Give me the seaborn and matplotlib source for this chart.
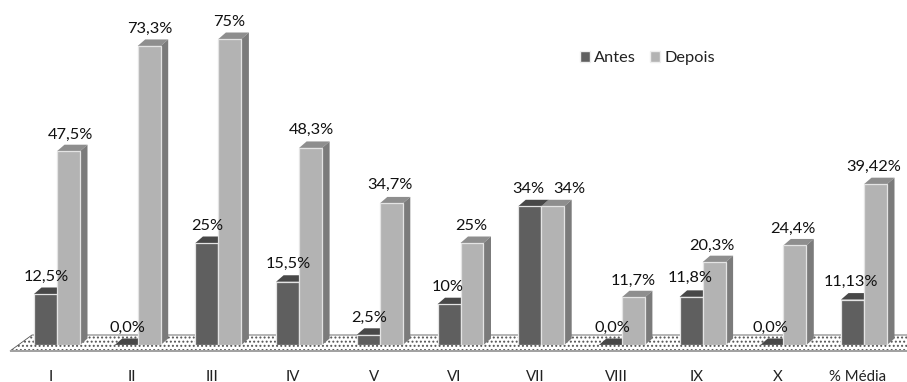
import matplotlib
matplotlib.use("Agg")
import matplotlib.pyplot as plt
from matplotlib.patches import Polygon, Patch
from matplotlib.transforms import ScaledTranslation
import pandas as pd
import seaborn as sns

groups = ["I", "II", "III", "IV", "V", "VI", "VII", "VIII", "IX", "X", "% Média"]
antes = [12.5, 0.0, 25, 15.5, 2.5, 10, 34, 0.0, 11.8, 0.0, 11.13]
depois = [47.5, 73.3, 75, 48.3, 34.7, 25, 34, 11.7, 20.3, 24.4, 39.42]
antes_labels = ["12,5%", "0,0%", "25%", "15,5%", "2,5%", "10%", "34%", "0,0%", "11,8%", "0,0%", "11,13%"]
depois_labels = ["47,5%", "73,3%", "75%", "48,3%", "34,7%", "25%", "34%", "11,7%", "20,3%", "24,4%", "39,42%"]

# horizontal / vertical nudges of the value labels, in pixels
antes_nudge_x = [0.5, 0.8, 0, 0.4, 0.7, -1, -1.7, 1.6, -1.1, -1.8, -1.5]
antes_nudge_y = [17.5, 17.5, 16.5, 17.5, 16.5, 17.5, 17.5, 17.5, 18.5, 17.5, 17.5]
depois_nudge_x = [2.5, 0.8, -0.9, 0.4, -1.3, -1, 16.3, -0.4, -2, -1.8, -1.5]
depois_nudge_y = [16.5, 17.5, 17.5, 18.5, 18.5, 17.5, 17.5, 16.5, 16.5, 16.5, 17.5]

FRONT = {"Antes": "#5f5f5f", "Depois": "#b3b3b3"}
TOP = {"Antes": "#484848", "Depois": "#8e8e8e"}
SIDE = {"Antes": "#4f4f4f", "Depois": "#7b7b7b"}

sns.set_theme(style="white")
plt.rcParams["font.family"] = ["Lato", "DejaVu Sans"]
plt.rcParams["hatch.linewidth"] = 0.9

W, H = 907, 382
BASE_PX = 345
GROUP_PX = 80.7
FIRST_PX = 57
PX_PER_PCT = 4.08

fig = plt.figure(figsize=(W / 100, H / 100), dpi=100)
ax = fig.add_axes([0, (H - BASE_PX) / H, 1, BASE_PX / H])

df = pd.DataFrame({
    "grupo": groups * 2,
    "serie": ["Antes"] * len(groups) + ["Depois"] * len(groups),
    "valor": antes + depois,
})
sns.barplot(data=df, x="grupo", y="valor", hue="serie", palette=FRONT, width=0.57,
            gap=0, saturation=1, legend=False, ax=ax, zorder=3,
            edgecolor="#e4e4e4", linewidth=0.9)

ax.set_xlim(-FIRST_PX / GROUP_PX, (W - FIRST_PX) / GROUP_PX)
ax.set_ylim(0, BASE_PX / PX_PER_PCT)
ax.set_xlabel("")
ax.set_ylabel("")
ax.set_yticks([])
for s in ax.spines.values():
    s.set_visible(False)

# pixel-sized extrusion expressed in data units
dx = 7.5 / GROUP_PX
dy = 6.5 / PX_PER_PCT

# stippled floor under the columns, with a heavier front rim
fx = lambda px: (px - FIRST_PX) / GROUP_PX
fy = lambda px: (BASE_PX - px) / PX_PER_PCT
ax.add_patch(Polygon([(fx(10), fy(351)), (fx(W + 8), fy(351)), (fx(W + 30), fy(335)), (fx(32), fy(335))],
                     closed=True, facecolor="white", edgecolor="#555555", hatch="....",
                     linewidth=0.6, zorder=1, clip_on=False))
ax.add_patch(Polygon([(fx(10), fy(352)), (fx(W), fy(352)), (fx(W), fy(350)), (fx(10), fy(350))],
                     closed=True, facecolor="#a2a2a2", edgecolor="none", zorder=1.5, clip_on=False))

# extrude every column: a roof and a right-hand side
n = len(groups)
series_of = ["Antes"] * n + ["Depois"] * n
for bar, serie in zip(ax.patches[:2 * n], series_of):
    x0, x1 = bar.get_x(), bar.get_x() + bar.get_width()
    h = bar.get_height()
    ax.add_patch(Polygon([(x0, h), (x1, h), (x1 + dx, h + dy), (x0 + dx, h + dy)], closed=True,
                         facecolor=TOP[serie], edgecolor="none", zorder=2.5, clip_on=False))
    if h > 0:
        ax.add_patch(Polygon([(x1, 0), (x1 + dx, dy), (x1 + dx, h + dy), (x1, h)], closed=True,
                             facecolor=SIDE[serie], edgecolor="none", zorder=2.5, clip_on=False))

# value labels above the columns
nudges = list(zip(antes_nudge_x + depois_nudge_x, antes_nudge_y + depois_nudge_y))
for bar, text, (nx, ny) in zip(ax.patches[:2 * n], antes_labels + depois_labels, nudges):
    ax.annotate(text, (bar.get_x() + bar.get_width() / 2, bar.get_height()),
                xytext=(nx * 0.72, ny * 0.72), textcoords="offset points", ha="center", va="center",
                fontsize=11.8, color="#111111", zorder=6, annotation_clip=False)

# category labels sit a little left of the group centres
ax.set_xticks(range(n))
ax.set_xticklabels(groups, fontsize=10.8, color="#222222")
ax.tick_params(axis="x", length=0, pad=18)
shift = ScaledTranslation(-6 / 100, 0, fig.dpi_scale_trans)
for lab in ax.get_xticklabels():
    lab.set_transform(lab.get_transform() + shift)

ax.legend(handles=[Patch(facecolor=FRONT["Antes"], edgecolor="#eeeeee", label="Antes"),
                   Patch(facecolor=FRONT["Depois"], edgecolor="#eeeeee", label="Depois")],
          loc="center left", bbox_to_anchor=(580 / W, (BASE_PX - 58) / BASE_PX),
          ncol=2, frameon=False, fontsize=11.8, handlelength=0.62, handleheight=0.62,
          handletextpad=0.25, columnspacing=0.85, borderpad=0, borderaxespad=0,
          labelcolor="#222222")

fig.savefig("out.png", dpi=100, facecolor="white")
